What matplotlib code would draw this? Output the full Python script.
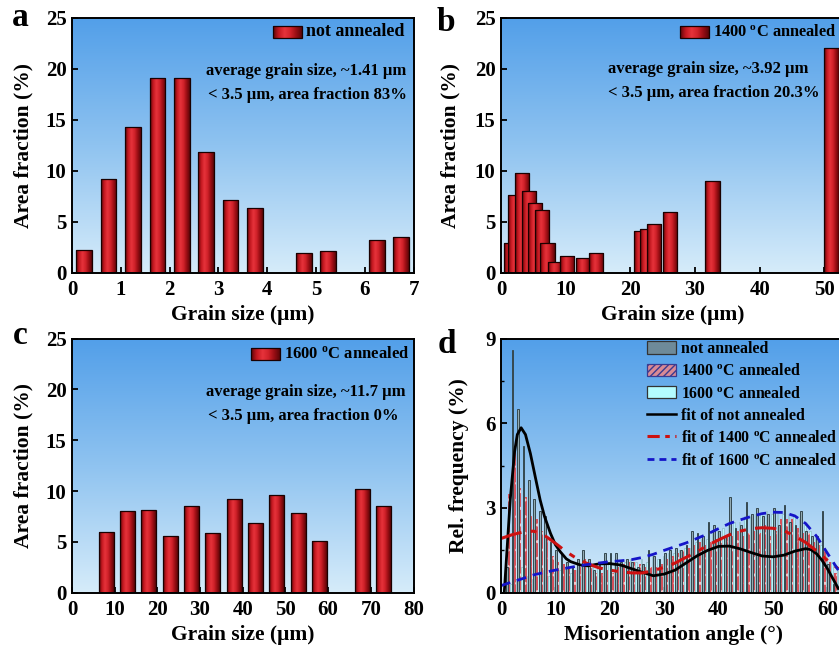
import numpy as np
import matplotlib
matplotlib.use('Agg')
import matplotlib.pyplot as plt
from matplotlib.colors import LinearSegmentedColormap
from matplotlib.patches import Patch, Rectangle
from matplotlib.lines import Line2D
from matplotlib.ticker import MultipleLocator

plt.rcParams.update({
    'font.family': ['Liberation Serif', 'DejaVu Serif'],
    'font.weight': 'bold',
    'axes.labelweight': 'bold',
    'mathtext.fontset': 'custom',
    'mathtext.rm': 'Liberation Serif:bold',
    'mathtext.it': 'Liberation Serif:bold',
    'mathtext.bf': 'Liberation Serif:bold',
    'axes.linewidth': 1.4,
    'xtick.direction': 'in', 'ytick.direction': 'in',
    'xtick.major.size': 4, 'ytick.major.size': 4,
    'xtick.major.width': 1.3, 'ytick.major.width': 1.3,
    'xtick.minor.size': 2.5, 'ytick.minor.size': 2.5,
    'xtick.minor.width': 1.0, 'ytick.minor.width': 1.0,
    'hatch.linewidth': 1.0,
})

# ---------------- data ----------------
# (a) not annealed
a_size = [0.25, 0.75, 1.25, 1.75, 2.25, 2.75, 3.25, 3.75, 4.75, 5.25, 6.25, 6.75]
a_frac = [2.2, 9.2, 14.3, 19.1, 19.1, 11.8, 7.1, 6.3, 1.9, 2.15, 3.25, 3.5]
# (b) 1400 C annealed
b_size = [1.5, 2.2, 3.3, 4.3, 5.3, 6.3, 7.2, 8.3, 10.2, 12.7, 14.7,
          21.7, 22.6, 23.6, 26.1, 32.7, 51.1]
b_frac = [2.9, 7.6, 9.8, 8.0, 6.8, 6.1, 2.9, 1.0, 1.6, 1.4, 1.9,
          4.1, 4.3, 4.8, 5.9, 9.0, 22.0]
# (c) 1600 C annealed
c_size = [8, 13, 18, 23, 28, 33, 38, 43, 48, 53, 58, 68, 73]
c_frac = [5.96, 8.06, 8.16, 5.57, 8.55, 5.9, 9.17, 6.85, 9.63, 7.86, 5.08, 10.16, 8.49]

# (d) misorientation histograms, 1-degree bins starting at 1..61
d_bin = list(range(1, 62))
d_not = [0.9, 8.6, 6.5, 5.2, 4.0, 3.3, 2.9, 2.7, 1.8, 1.5,
         1.4, 1.1, 0.9, 1.2, 1.5, 1.2, 0.8, 1.0, 1.4, 1.4,
         1.4, 1.1, 1.2, 1.1, 0.9, 1.0, 1.5, 1.3, 1.2, 1.4,
         1.5, 1.6, 1.5, 1.7, 2.2, 2.1, 2.0, 2.5, 2.4, 2.2,
         2.0, 3.4, 2.3, 2.4, 3.2, 2.8, 3.0, 2.7, 2.8, 3.0,
         2.4, 3.1, 2.5, 2.4, 2.9, 2.2, 2.0, 2.0, 2.9, 1.0, 0.3]
d_1400 = [3.5, 5.1, 3.7, 3.4, 2.7, 2.6, 2.2, 1.9, 1.3, 1.1,
          1.0, 0.9, 0.8, 0.9, 1.2, 0.9, 0.7, 0.7, 0.8, 0.7,
          0.9, 1.0, 1.1, 1.1, 1.0, 0.9, 0.9, 0.9, 1.0, 1.2,
          1.3, 1.4, 1.5, 1.6, 1.7, 1.8, 1.7, 1.8, 1.9, 1.9,
          2.0, 2.0, 2.2, 2.0, 2.1, 2.2, 2.1, 2.4, 2.0, 2.2,
          2.6, 2.6, 2.6, 2.3, 2.1, 2.1, 1.8, 1.7, 1.6, 1.1, 0.7]
d_1600 = [0.3, 0.5, 0.9, 0.6, 0.5, 0.7, 0.8, 0.6, 0.7, 0.8,
          0.9, 0.7, 0.8, 0.9, 1.0, 0.9, 0.9, 1.0, 1.1, 1.0,
          1.0, 1.1, 1.2, 1.1, 1.2, 1.1, 1.3, 1.2, 1.3, 1.4,
          1.4, 1.5, 1.6, 1.6, 1.8, 1.9, 1.9, 2.1, 2.2, 2.3,
          2.4, 2.5, 2.5, 2.7, 2.7, 2.8, 2.8, 2.9, 2.8, 2.9,
          2.8, 2.8, 2.7, 2.6, 2.4, 2.2, 2.0, 1.7, 1.4, 1.1, 0.8]

# fitted curves
fit_not_x = [0.6, 1.0, 1.7, 2.5, 3.0, 3.7, 4.5, 5.4, 6.3, 7.2, 8.0, 9.1, 10.0, 10.9,
             12.0, 12.8, 14.6, 16, 18, 20, 22, 24, 26, 28, 30, 32, 34, 36, 38, 40,
             42, 44, 46, 48, 50, 52, 54, 56, 57, 58, 59, 60, 61, 62]
fit_not_y = [0.0, 1.2, 3.3, 5.0, 5.6, 5.84, 5.6, 4.93, 4.1, 3.28, 2.7, 2.1, 1.7, 1.45,
             1.2, 1.1, 0.98, 0.95, 1.02, 1.03, 0.98, 0.85, 0.72, 0.6, 0.66, 0.8, 1.05,
             1.3, 1.5, 1.64, 1.65, 1.55, 1.42, 1.3, 1.27, 1.33, 1.47, 1.56, 1.52,
             1.38, 1.15, 0.85, 0.5, 0.15]
fit_x = [0, 2, 4, 6, 8, 10, 12, 14, 16, 18, 20, 22, 24, 26, 28, 30, 32, 34, 36,
         38, 40, 42, 44, 46, 48, 50, 52, 54, 56, 58, 60, 62]
fit_1400_y = [1.92, 2.05, 2.15, 2.18, 2.03, 1.75, 1.45, 1.2, 1.02, 0.88, 0.8, 0.74,
              0.7, 0.7, 0.78, 0.9, 1.05, 1.25, 1.45, 1.68, 1.87, 2.05, 2.18, 2.27,
              2.3, 2.28, 2.2, 2.0, 1.78, 1.48, 1.15, 0.85]
fit_1600_y = [0.25, 0.38, 0.5, 0.63, 0.72, 0.8, 0.87, 0.94, 1.0, 1.05, 1.1, 1.13,
              1.17, 1.25, 1.36, 1.5, 1.63, 1.76, 1.92, 2.08, 2.27, 2.45, 2.58, 2.7,
              2.8, 2.85, 2.84, 2.72, 2.45, 2.0, 1.4, 0.8]

# ---------------- figure ----------------
W, H = 839, 648
fig = plt.figure(figsize=(W / 100, H / 100), dpi=100)

def add_ax(L, T, R, B):
    return fig.add_axes([L / W, 1 - B / H, (R - L) / W, (B - T) / H])

bg_cmap = LinearSegmentedColormap.from_list('bg', ['#529FE9', '#8FC3F0', '#D6ECFA'])
red_cmap = LinearSegmentedColormap.from_list(
    'red', ['#5C0508', '#C41820', '#E6333B', '#D2222A', '#9A0E14', '#5A0508'])

TICK_FS = 15
LAB_FS = 15.5
ANN_FS = 12

def background(ax):
    ax.imshow(np.linspace(0, 1, 256).reshape(-1, 1), cmap=bg_cmap,
              extent=(0, 1, 0, 1), transform=ax.transAxes, aspect='auto',
              zorder=0, interpolation='bilinear')

def shaded_bars(ax, x, h, w, cmap):
    bars = ax.bar(x, h, w, facecolor='none', edgecolor='#1a0000', linewidth=0.9)
    grad = np.linspace(0, 1, 128).reshape(1, -1)
    for i, p in enumerate(bars.patches):
        z = 2 + i * 0.01
        x0, y0 = p.get_x(), p.get_y()
        im = ax.imshow(grad, cmap=cmap, extent=(x0, x0 + p.get_width(), y0, y0 + p.get_height()),
                       aspect='auto', interpolation='bilinear', zorder=z)
        im.set_clip_path(p)
        p.set_zorder(z + 0.005)
    return bars

def to_ax(box, px, py):
    L, T, R, B = box
    return (px - L) / (R - L), (B - py) / (B - T)

def swatch(ax, box, px_rect, cmap, label, fs):
    x0, y0, x1, y1 = px_rect
    ax_x0, ax_y1 = to_ax(box, x0, y0)
    ax_x1, ax_y0 = to_ax(box, x1, y1)
    rect = Rectangle((ax_x0, ax_y0), ax_x1 - ax_x0, ax_y1 - ax_y0, transform=ax.transAxes,
                     facecolor='none', edgecolor='#1a0000', linewidth=0.9, zorder=6)
    ax.add_patch(rect)
    ax.imshow(np.linspace(0, 1, 128).reshape(1, -1), cmap=cmap,
              extent=(ax_x0, ax_x1, ax_y0, ax_y1), transform=ax.transAxes,
              aspect='auto', zorder=5.5, interpolation='bilinear')
    tx, ty = to_ax(box, x1 + 4, (y0 + y1) / 2)
    ax.text(tx, ty, label, transform=ax.transAxes,
            ha='left', va='center', fontsize=fs, fontweight='bold', zorder=7)

def note(ax, box, px, py, s):
    tx, ty = to_ax(box, px, py)
    ax.text(tx, ty, s, transform=ax.transAxes, fontsize=ANN_FS,
            va='center', ha='left', zorder=7)

def style(ax, xlim, xticks, ylim, yticks, xlabel, ylabel, ylab_x, xlab_x=0.5, xlab_y=-0.125):
    ax.set_xlim(*xlim); ax.set_ylim(*ylim)
    ax.set_xticks(xticks); ax.set_yticks(yticks)
    ax.tick_params(labelsize=TICK_FS, pad=4)
    ax.tick_params(axis='x', pad=5)
    ax.set_xlabel(xlabel, fontsize=LAB_FS, fontweight='bold')
    ax.set_ylabel(ylabel, fontsize=LAB_FS, fontweight='bold')
    ax.xaxis.set_label_coords(xlab_x, xlab_y)
    ax.yaxis.set_label_coords(ylab_x, 0.5)
    for s in ax.spines.values():
        s.set_zorder(10)

# ---- panel a ----
boxA = (72, 17.5, 413.5, 272.7)
axA = add_ax(*boxA)
background(axA)
shaded_bars(axA, a_size, a_frac, 0.32, red_cmap)
style(axA, (0, 7), range(0, 8), (0, 25), range(0, 26, 5),
      'Grain size (μm)', 'Area fraction (%)', -0.114)
swatch(axA, boxA, (273, 26, 302, 38), red_cmap, 'not annealed', 13)
note(axA, boxA, 206, 71, 'average grain size, ~1.41 μm')
note(axA, boxA, 208, 95, '< 3.5 μm, area fraction 83%')

# ---- panel b ----
boxB = (501, 17.5, 889, 272.7)
axB = add_ax(*boxB)
background(axB)
shaded_bars(axB, b_size, b_frac, 2.2, red_cmap)
style(axB, (0, 60), range(0, 51, 10), (0, 25), range(0, 26, 5),
      'Grain size (μm)', 'Area fraction (%)', -0.105, xlab_x=0.443)
swatch(axB, boxB, (680, 26, 709, 38), red_cmap, '1400 $^{\\mathrm{o}}$C annealed', 11.8)
note(axB, boxB, 608, 69, 'average grain size, ~3.92 μm')
note(axB, boxB, 608, 93, '< 3.5 μm, area fraction 20.3%')

# ---- panel c ----
boxC = (72, 338.5, 413.5, 592.7)
axC = add_ax(*boxC)
background(axC)
shaded_bars(axC, c_size, c_frac, 3.5, red_cmap)
style(axC, (0, 80), range(0, 81, 10), (0, 25), range(0, 26, 5),
      'Grain size (μm)', 'Area fraction (%)', -0.114, xlab_y=-0.128)
swatch(axC, boxC, (251, 348, 280, 360), red_cmap, '1600 $^{\\mathrm{o}}$C annealed', 12)
note(axC, boxC, 206, 392, 'average grain size, ~11.7 μm')
note(axC, boxC, 208, 416, '< 3.5 μm, area fraction 0%')

# ---- panel d ----
boxD = (501, 338.5, 881.8, 592.7)
axD = add_ax(*boxD)
background(axD)
bins = np.array(d_bin, dtype=float)
axD.bar(bins + 0.84, d_1600, 0.28, facecolor='#B8F6FB', edgecolor='#8FB8C4',
        linewidth=0.5, zorder=2)
axD.bar(bins + 0.50, d_1400, 0.42, facecolor='#D4505A', edgecolor='#F6C8CC',
        linewidth=0, hatch='..', zorder=2.1)
axD.bar(bins + 0.12, d_not, 0.32, facecolor='#93ABB3', edgecolor='#34484F',
        linewidth=0.7, zorder=2.2)
axD.plot(fit_not_x, fit_not_y, color='black', lw=2.0, zorder=4)
axD.plot(fit_x, fit_1400_y, color='#CC1111', lw=2.2, ls=(0, (7, 3, 2, 3)), zorder=4)
axD.plot(fit_x, fit_1600_y, color='#1515C8', lw=2.0, ls=(0, (3.5, 2.5)), zorder=4)
style(axD, (0, 70), range(0, 61, 10), (0, 9), [0, 3, 6, 9],
      'Misorientation angle (°)', 'Rel. frequency (%)', -0.084, xlab_x=0.452,
      xlab_y=-0.128)
axD.yaxis.set_minor_locator(MultipleLocator(1.5))

handles = [
    Patch(facecolor='#6E8A99', edgecolor='#333333', linewidth=0.9),
    Patch(facecolor='#D98A95', edgecolor='#3B3B90', linewidth=0.9, hatch='/////'),
    Patch(facecolor='#B4FCFF', edgecolor='#333333', linewidth=0.9),
    Line2D([], [], color='black', lw=1.8),
    Line2D([], [], color='#CC1111', lw=2.2, ls=(0, (4, 1.8, 1.5, 1.8))),
    Line2D([], [], color='#1515C8', lw=2.0, ls=(0, (2.5, 1.8))),
]
labels = ['not annealed', '1400 $^{\\mathrm{o}}$C annealed', '1600 $^{\\mathrm{o}}$C annealed',
          'fit of not annealed', 'fit of 1400 $^{\\mathrm{o}}$C annealed',
          'fit of 1600 $^{\\mathrm{o}}$C annealed']
leg = axD.legend(handles, labels, loc='upper left',
                 bbox_to_anchor=(647 / W, 1 - 341 / H), bbox_transform=fig.transFigure,
                 frameon=False, fontsize=11.4, handlelength=1.85, handleheight=0.85,
                 handletextpad=0.3, labelspacing=0.4, borderpad=0, borderaxespad=0)
leg.set_zorder(12)

# panel letters
for lab, px, py in [('a', 12, 26), ('b', 437, 31), ('c', 13, 344), ('d', 438, 353)]:
    fig.text(px / W, 1 - py / H, lab, fontsize=24, fontweight='bold',
             ha='left', va='baseline')

fig.savefig('out.png', dpi=100)
